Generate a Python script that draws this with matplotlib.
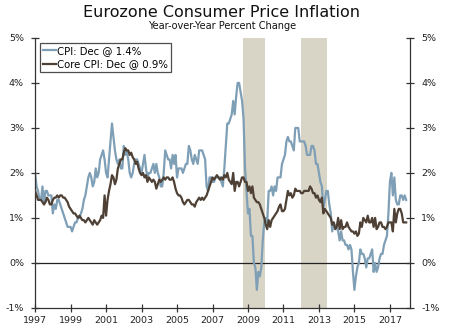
import numpy as np
import matplotlib
matplotlib.use('Agg')
import matplotlib.pyplot as plt

# monthly year-over-year % change, Jan 1997 - Dec 2017
cpi = [
    2.0, 1.7, 1.6, 1.4, 1.4, 1.7, 1.3, 1.6, 1.6, 1.5, 1.5, 1.5,   # 1997
    1.1, 1.3, 1.2, 1.4, 1.4, 1.3, 1.2, 1.1, 1.0, 0.9, 0.8, 0.8,   # 1998
    0.8, 0.7, 0.8, 0.9, 0.9, 1.0, 1.0, 1.1, 1.2, 1.4, 1.5, 1.7,   # 1999
    1.9, 2.0, 1.9, 1.7, 1.8, 2.1, 1.9, 2.0, 2.3, 2.4, 2.5, 2.3,   # 2000
    2.0, 1.9, 2.3, 2.7, 3.1, 2.8, 2.5, 2.3, 2.2, 2.3, 2.1, 2.1,   # 2001
    2.6, 2.4, 2.5, 2.3, 2.0, 1.9, 2.0, 2.2, 2.3, 2.3, 2.2, 2.1,   # 2002
    2.0, 2.2, 2.4, 2.1, 1.9, 2.0, 2.0, 2.1, 2.2, 2.0, 2.2, 2.0,   # 2003
    1.9, 1.7, 1.7, 2.0, 2.5, 2.4, 2.3, 2.3, 2.1, 2.4, 2.2, 2.4,   # 2004
    1.9, 2.1, 2.1, 2.1, 2.0, 2.1, 2.2, 2.2, 2.6, 2.5, 2.3, 2.2,   # 2005
    2.4, 2.3, 2.2, 2.5, 2.5, 2.5, 2.4, 2.3, 1.7, 1.6, 1.9, 1.9,   # 2006
    1.8, 1.8, 1.9, 1.9, 1.9, 1.9, 1.8, 1.7, 2.1, 2.6, 3.1, 3.1,   # 2007
    3.2, 3.3, 3.6, 3.3, 3.7, 4.0, 4.0, 3.8, 3.6, 3.2, 2.1, 1.6,   # 2008
    1.1, 1.2, 0.6, 0.6, 0.0, -0.1, -0.6, -0.2, -0.3, -0.1, 0.5, 0.9,  # 2009
    1.0, 0.9, 1.6, 1.6, 1.7, 1.5, 1.7, 1.6, 1.9, 1.9, 1.9, 2.2,   # 2010
    2.3, 2.4, 2.7, 2.8, 2.7, 2.7, 2.6, 2.5, 3.0, 3.0, 3.0, 2.7,   # 2011
    2.7, 2.7, 2.7, 2.6, 2.4, 2.4, 2.4, 2.6, 2.6, 2.5, 2.2, 2.2,   # 2012
    2.0, 1.8, 1.7, 1.2, 1.4, 1.6, 1.6, 1.3, 1.1, 0.7, 0.9, 0.8,   # 2013
    0.8, 0.7, 0.5, 0.7, 0.5, 0.5, 0.4, 0.4, 0.3, 0.4, 0.3, -0.2,  # 2014
    -0.6, -0.3, -0.1, 0.0, 0.3, 0.2, 0.2, 0.1, -0.1, 0.1, 0.1, 0.2,  # 2015
    0.3, -0.2, 0.0, -0.2, -0.1, 0.1, 0.2, 0.2, 0.4, 0.5, 0.6, 1.1,  # 2016
    1.8, 2.0, 1.5, 1.9, 1.4, 1.3, 1.3, 1.5, 1.5, 1.4, 1.5, 1.4,   # 2017
]

core = [
    1.6, 1.5, 1.4, 1.4, 1.4, 1.35, 1.3, 1.35, 1.45, 1.4, 1.3, 1.3,
    1.4, 1.45, 1.45, 1.5, 1.45, 1.5, 1.5, 1.45, 1.45, 1.4, 1.35, 1.25,
    1.2, 1.15, 1.1, 1.1, 1.05, 1.0, 1.05, 1.0, 0.95, 0.95, 0.9, 0.95,
    1.0, 0.95, 0.9, 0.85, 0.95, 0.9, 0.85, 0.9, 0.95, 1.05, 1.0, 1.5,
    1.05, 1.4, 1.6, 1.75, 1.95, 1.9, 1.75, 1.85, 2.1, 2.2, 2.3, 2.3,
    2.45, 2.55, 2.5, 2.5, 2.4, 2.45, 2.35, 2.3, 2.2, 2.25, 2.1, 2.0,
    1.95, 2.0, 1.9, 1.95, 1.8, 1.9, 1.85, 1.8, 1.85, 1.8, 1.65, 1.75,
    1.85, 1.8, 1.85, 1.9, 1.85, 1.9, 1.9, 1.85, 1.85, 1.9, 1.8, 1.65,
    1.55, 1.5, 1.5, 1.45, 1.35, 1.3, 1.35, 1.4, 1.4, 1.35, 1.3, 1.3,
    1.25, 1.35, 1.4, 1.45, 1.4, 1.45, 1.4, 1.45, 1.5, 1.6, 1.7, 1.8,
    1.9, 1.85, 1.9, 1.95, 1.9, 1.85, 1.9, 1.85, 1.95, 1.9, 2.0, 1.85,
    1.8, 1.75, 2.0, 1.6, 1.8, 1.8, 1.7, 1.8, 1.9, 1.9, 1.8, 1.8,
    1.6, 1.7, 1.55, 1.7, 1.45, 1.4, 1.35, 1.35, 1.3, 1.2, 1.1, 1.0,
    0.85, 0.75, 0.95, 0.8, 0.95, 1.0, 1.05, 1.1, 1.15, 1.25, 1.3, 1.15,
    1.15, 1.2, 1.4, 1.6, 1.5, 1.55, 1.45, 1.5, 1.65, 1.6, 1.6, 1.6,
    1.55, 1.55, 1.6, 1.6, 1.6, 1.6, 1.7, 1.65, 1.55, 1.55, 1.45, 1.5,
    1.4, 1.35, 1.45, 1.1, 1.2, 1.15, 1.1, 1.05, 1.0, 0.85, 0.9, 0.75,
    0.8, 1.0, 0.75, 0.95, 0.75, 0.8, 0.8, 0.9, 0.8, 0.75, 0.7, 0.7,
    0.65, 0.7, 0.6, 0.65, 0.9, 0.8, 1.0, 0.95, 0.9, 1.05, 0.9, 0.9,
    1.0, 0.8, 1.0, 0.75, 0.8, 0.9, 0.9, 0.8, 0.8, 0.75, 0.8, 0.9,
    0.9, 0.9, 0.7, 1.2, 0.9, 1.1, 1.2, 1.2, 1.1, 0.9, 0.9, 0.9,
]

start_year = 1997
rec_start = [2008.7, 2012.0]
rec_end = [2009.96, 2013.45]
year_ticks = list(range(1997, 2018, 2))
pct_ticks = [-1, 0, 1, 2, 3, 4, 5]

dates = start_year + np.arange(len(cpi)) / 12.0

fig = plt.figure(figsize=(4.5, 3.3), dpi=100)
ax = fig.add_axes([0.078, 0.067, 0.833, 0.818])

for s, e in zip(rec_start, rec_end):
    ax.axvspan(s, e, color='#d8d4c6', lw=0, zorder=0)

ax.axhline(0, color='#222222', lw=0.9, zorder=1)
ax.plot(dates, cpi, color='#7f9fb6', lw=1.6, label='CPI: Dec @ 1.4%', zorder=2)
ax.plot(dates, core, color='#4e4034', lw=1.6, label='Core CPI: Dec @ 0.9%', zorder=3)

ax.set_xlim(1997, 2018.13)
ax.set_ylim(-1, 5)
ax.set_xticks(year_ticks)
ax.set_xticklabels([str(y) for y in year_ticks])
ax.set_yticks(pct_ticks)
ax.set_yticklabels(['%d%%' % p for p in pct_ticks])

ax.spines['top'].set_visible(False)
for sp in ['left', 'right', 'bottom']:
    ax.spines[sp].set_color('#333333')
    ax.spines[sp].set_linewidth(0.9)

ax.tick_params(axis='both', direction='inout', length=6, width=0.9, color='#333333',
               labelsize=6.8, labelcolor='#222222')
ax.tick_params(axis='y', left=True, right=True, labelleft=True, labelright=True, pad=5)
ax.tick_params(axis='x', pad=3)

leg = ax.legend(loc='upper left', bbox_to_anchor=(0.013, 0.982), borderaxespad=0,
                fontsize=7.3, frameon=True, fancybox=False, handlelength=1.3,
                handletextpad=0.1, borderpad=0.3, labelspacing=0.35)
leg.get_frame().set_edgecolor('#222222')
leg.get_frame().set_linewidth(0.9)

fig.text(0.493, 0.948, 'Eurozone Consumer Price Inflation', ha='center', va='baseline',
         fontsize=11.5, color='#111111')
fig.text(0.493, 0.911, 'Year-over-Year Percent Change', ha='center', va='baseline',
         fontsize=7.0, color='#111111')

plt.savefig('out.png', dpi=100)
